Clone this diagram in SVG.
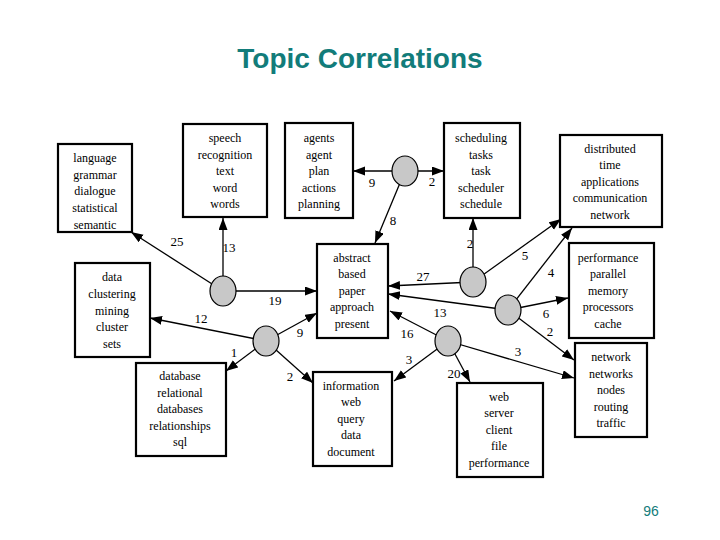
<svg xmlns="http://www.w3.org/2000/svg" width="720" height="540" viewBox="0 0 720 540">
<style>
.box{fill:#fff;stroke:#000;stroke-width:2.2}
.hub{fill:#c8c8c8;stroke:#000;stroke-width:1.2}
.t{font-size:12px;text-anchor:middle;fill:#000000}
.lbl{font-size:13px;text-anchor:middle;fill:#000000}
.e{stroke:#000;stroke-width:1.3;fill:none;marker-end:url(#ah)}
.title{font-family:'Liberation Sans',Arial,sans-serif;font-size:28px;font-weight:bold;fill:#127c7a;text-anchor:middle}
.pg{font-family:'Liberation Sans',Arial,sans-serif;font-size:14px;fill:#127c7a;text-anchor:middle}
</style>
<defs>
<marker id="ah" markerUnits="userSpaceOnUse" markerWidth="13" markerHeight="10" refX="12" refY="4.5" orient="auto">
<path d="M0,0 L12,4.5 L0,9 z" fill="#000"/>
</marker>
</defs>
<rect width="720" height="540" fill="#fff"/>
<text class="title" x="360" y="68">Topic Correlations</text>
<text class="pg" x="651" y="516">96</text>

<g id="connectors" font-family="Liberation Serif, serif">
<line class="e" x1="405" y1="171" x2="353" y2="171"/>
<line class="e" x1="405" y1="171" x2="444" y2="171"/>
<line class="e" x1="405" y1="171" x2="375" y2="243"/>
<line class="e" x1="223" y1="291" x2="131" y2="232"/>
<line class="e" x1="223" y1="291" x2="223" y2="218"/>
<line class="e" x1="223" y1="291" x2="317" y2="291"/>
<line class="e" x1="266" y1="341" x2="150" y2="318"/>
<line class="e" x1="266" y1="341" x2="317" y2="313"/>
<line class="e" x1="266" y1="341" x2="226" y2="371"/>
<line class="e" x1="266" y1="341" x2="313" y2="383"/>
<line class="e" x1="473" y1="282" x2="473" y2="218"/>
<line class="e" x1="473" y1="282" x2="561" y2="219"/>
<line class="e" x1="473" y1="282" x2="388" y2="286"/>
<line class="e" x1="508" y1="310" x2="388" y2="294"/>
<line class="e" x1="508" y1="310" x2="572" y2="228"/>
<line class="e" x1="508" y1="310" x2="568" y2="298"/>
<line class="e" x1="508" y1="310" x2="574" y2="360"/>
<line class="e" x1="448" y1="341" x2="390" y2="311"/>
<line class="e" x1="448" y1="341" x2="394" y2="381"/>
<line class="e" x1="448" y1="341" x2="470" y2="382"/>
<line class="e" x1="448" y1="341" x2="574" y2="378"/>
<text class="lbl" x="372" y="187">9</text>
<text class="lbl" x="432" y="186">2</text>
<text class="lbl" x="393" y="225">8</text>
<text class="lbl" x="177" y="246">25</text>
<text class="lbl" x="229" y="252">13</text>
<text class="lbl" x="275" y="305">19</text>
<text class="lbl" x="201" y="323">12</text>
<text class="lbl" x="300" y="337">9</text>
<text class="lbl" x="234" y="357">1</text>
<text class="lbl" x="290" y="381">2</text>
<text class="lbl" x="470" y="248">2</text>
<text class="lbl" x="525" y="260">5</text>
<text class="lbl" x="423" y="281">27</text>
<text class="lbl" x="551" y="277">4</text>
<text class="lbl" x="440" y="317">13</text>
<text class="lbl" x="546" y="318">6</text>
<text class="lbl" x="407" y="338">16</text>
<text class="lbl" x="550" y="336">2</text>
<text class="lbl" x="518" y="356">3</text>
<text class="lbl" x="409" y="364">3</text>
<text class="lbl" x="454" y="378">20</text>
</g>

<g id="hub1"><ellipse class="hub" cx="405" cy="171" rx="13" ry="15"/></g>
<g id="hub2"><ellipse class="hub" cx="223" cy="291" rx="13" ry="15"/></g>
<g id="hub3"><ellipse class="hub" cx="266" cy="341" rx="13" ry="15"/></g>
<g id="hub4"><ellipse class="hub" cx="473" cy="282" rx="13" ry="15"/></g>
<g id="hub5"><ellipse class="hub" cx="508" cy="310" rx="13" ry="15"/></g>
<g id="hub6"><ellipse class="hub" cx="448" cy="341" rx="13" ry="15"/></g>

<g font-family="Liberation Serif, serif">
<g id="language">
<rect class="box" x="58" y="144" width="74" height="88"/>
<text class="t" x="95" y="162">language</text>
<text class="t" x="95" y="179">grammar</text>
<text class="t" x="95" y="195">dialogue</text>
<text class="t" x="95" y="212">statistical</text>
<text class="t" x="95" y="229">semantic</text>
</g>
<g id="speech">
<rect class="box" x="183" y="124" width="84" height="93"/>
<text class="t" x="225" y="142">speech</text>
<text class="t" x="225" y="159">recognition</text>
<text class="t" x="225" y="175">text</text>
<text class="t" x="225" y="192">word</text>
<text class="t" x="225" y="208">words</text>
</g>
<g id="agents">
<rect class="box" x="285" y="123" width="68" height="95"/>
<text class="t" x="319" y="142">agents</text>
<text class="t" x="319" y="159">agent</text>
<text class="t" x="319" y="175">plan</text>
<text class="t" x="319" y="192">actions</text>
<text class="t" x="319" y="208">planning</text>
</g>
<g id="scheduling">
<rect class="box" x="444" y="123" width="76" height="95"/>
<text class="t" x="481" y="142">scheduling</text>
<text class="t" x="481" y="159">tasks</text>
<text class="t" x="481" y="175">task</text>
<text class="t" x="481" y="192">scheduler</text>
<text class="t" x="481" y="208">schedule</text>
</g>
<g id="distributed">
<rect class="box" x="560" y="135" width="102" height="92"/>
<text class="t" x="610" y="153">distributed</text>
<text class="t" x="610" y="169">time</text>
<text class="t" x="610" y="186">applications</text>
<text class="t" x="610" y="202">communication</text>
<text class="t" x="610" y="219">network</text>
</g>
<g id="data">
<rect class="box" x="75" y="263" width="75" height="94"/>
<text class="t" x="112" y="281">data</text>
<text class="t" x="112" y="298">clustering</text>
<text class="t" x="112" y="315">mining</text>
<text class="t" x="112" y="331">cluster</text>
<text class="t" x="112" y="348">sets</text>
</g>
<g id="abstract">
<rect class="box" x="317" y="244" width="71" height="94"/>
<text class="t" x="352" y="262">abstract</text>
<text class="t" x="352" y="278">based</text>
<text class="t" x="352" y="295">paper</text>
<text class="t" x="352" y="311">approach</text>
<text class="t" x="352" y="328">present</text>
</g>
<g id="performance">
<rect class="box" x="569" y="243" width="85" height="95"/>
<text class="t" x="608" y="262">performance</text>
<text class="t" x="608" y="278">parallel</text>
<text class="t" x="608" y="295">memory</text>
<text class="t" x="608" y="311">processors</text>
<text class="t" x="608" y="328">cache</text>
</g>
<g id="database">
<rect class="box" x="136" y="363" width="90" height="93"/>
<text class="t" x="180" y="380">database</text>
<text class="t" x="180" y="397">relational</text>
<text class="t" x="180" y="413">databases</text>
<text class="t" x="180" y="430">relationships</text>
<text class="t" x="180" y="446">sql</text>
</g>
<g id="information">
<rect class="box" x="313" y="372" width="79" height="94"/>
<text class="t" x="351" y="390">information</text>
<text class="t" x="351" y="406">web</text>
<text class="t" x="351" y="423">query</text>
<text class="t" x="351" y="439">data</text>
<text class="t" x="351" y="456">document</text>
</g>
<g id="web">
<rect class="box" x="457" y="383" width="86" height="94"/>
<text class="t" x="499" y="401">web</text>
<text class="t" x="499" y="417">server</text>
<text class="t" x="499" y="434">client</text>
<text class="t" x="499" y="450">file</text>
<text class="t" x="499" y="467">performance</text>
</g>
<g id="network">
<rect class="box" x="575" y="343" width="72" height="94"/>
<text class="t" x="611" y="361">network</text>
<text class="t" x="611" y="378">networks</text>
<text class="t" x="611" y="394">nodes</text>
<text class="t" x="611" y="411">routing</text>
<text class="t" x="611" y="427">traffic</text>
</g>
</g>
</svg>
